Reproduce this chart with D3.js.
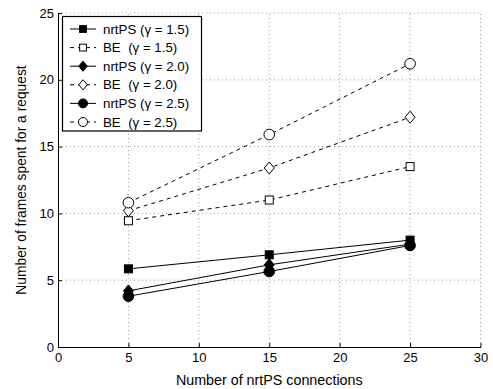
<!DOCTYPE html>
<html><head><meta charset="utf-8">
<script src="https://cdn.jsdelivr.net/npm/d3@7"></script>
<style>body{margin:0;background:#fff;} text{font-family:"Liberation Sans",Arial,sans-serif;white-space:pre;}</style>
</head><body>
<svg id="c" width="493" height="389"></svg>
<script>
const xValues = [5, 15, 25];
const nrtPS15 = [5.85, 6.9, 8.0];
const BE15 = [9.45, 11.0, 13.5];
const nrtPS20 = [4.2, 6.15, 7.7];
const BE20 = [10.2, 13.4, 17.2];
const nrtPS25 = [3.8, 5.65, 7.6];
const BE25 = [10.8, 15.9, 21.2];
const xTicks = [0, 5, 10, 15, 20, 25, 30];
const yTicks = [0, 5, 10, 15, 20, 25];
const seriesNames = ["nrtPS (\u03b3 = 1.5)", "BE  (\u03b3 = 1.5)", "nrtPS (\u03b3 = 2.0)", "BE  (\u03b3 = 2.0)", "nrtPS (\u03b3 = 2.5)", "BE  (\u03b3 = 2.5)"];

const series = [
  {name: seriesNames[0], v: nrtPS15, dash: null, marker: "square", fill: "#000"},
  {name: seriesNames[1], v: BE15, dash: "4,4", marker: "square", fill: "#fff"},
  {name: seriesNames[2], v: nrtPS20, dash: null, marker: "diamond", fill: "#000"},
  {name: seriesNames[3], v: BE20, dash: "4,4", marker: "diamond", fill: "#fff"},
  {name: seriesNames[4], v: nrtPS25, dash: null, marker: "circle", fill: "#000"},
  {name: seriesNames[5], v: BE25, dash: "4,4", marker: "circle", fill: "#fff"}
];

const svg = d3.select("#c");
const x = d3.scaleLinear().domain([0, 30]).range([58, 480.5]);
const y = d3.scaleLinear().domain([0, 25]).range([347, 13]);

// grid
const g = svg.append("g");
g.selectAll(".vg").data(xTicks.slice(1)).enter().append("line")
  .attr("x1", d => x(d)).attr("x2", d => x(d)).attr("y1", y(0)).attr("y2", y(25))
  .attr("stroke", "#999").attr("stroke-width", 1).attr("stroke-dasharray", "1,3");
g.selectAll(".hg").data(yTicks.slice(1)).enter().append("line")
  .attr("y1", d => y(d)).attr("y2", d => y(d)).attr("x1", x(0)).attr("x2", x(30))
  .attr("stroke", "#999").attr("stroke-width", 1).attr("stroke-dasharray", "1,3");

// axes
const xAxis = d3.axisBottom(x).tickValues(xTicks).tickSizeInner(-4).tickSizeOuter(0).tickPadding(6);
const yAxis = d3.axisLeft(y).tickValues(yTicks).tickSizeInner(-4).tickSizeOuter(0).tickPadding(4);
const gx = svg.append("g").attr("transform", `translate(0,${y(0)})`).call(xAxis);
const gy = svg.append("g").attr("transform", `translate(${x(0)},0)`).call(yAxis);
[gx, gy].forEach(a => {
  a.selectAll("path,line").attr("stroke", "#000");
  a.selectAll("text").attr("font-size", 13).attr("fill", "#000").attr("font-family", "Liberation Sans, Arial, sans-serif");
});

// axis labels
svg.append("text").attr("x", (x(0) + x(30)) / 2).attr("y", 385).attr("text-anchor", "middle")
  .attr("font-size", 14.3).text("Number of nrtPS connections");
svg.append("text").attr("transform", `translate(26,${(y(0) + y(25)) / 2}) rotate(-90)`).attr("text-anchor", "middle")
  .attr("font-size", 13.8).text("Number of frames spent for a request");

function marker(sel, type, fill, cx, cy, s) {
  if (type === "square") {
    sel.append("rect").attr("x", cx - 4 * s).attr("y", cy - 4 * s).attr("width", 8 * s).attr("height", 8 * s)
      .attr("fill", fill).attr("stroke", "#000").attr("stroke-width", 1);
  } else if (type === "diamond") {
    sel.append("path").attr("d", `M${cx},${cy - 6 * s}L${cx + 5 * s},${cy}L${cx},${cy + 6 * s}L${cx - 5 * s},${cy}Z`)
      .attr("fill", fill).attr("stroke", "#000").attr("stroke-width", 1);
  } else {
    sel.append("circle").attr("cx", cx).attr("cy", cy).attr("r", 5.3 * s)
      .attr("fill", fill).attr("stroke", "#000").attr("stroke-width", 1);
  }
}

const line = d3.line().x((d, i) => x(xValues[i])).y(d => y(d));
series.forEach(s => {
  const sg = svg.append("g");
  sg.append("path").attr("d", line(s.v)).attr("fill", "none").attr("stroke", "#000")
    .attr("stroke-width", 1).attr("stroke-dasharray", s.dash);
  s.v.forEach((d, i) => marker(sg, s.marker, s.fill, x(xValues[i]), y(d), 1));
});

// legend
const lg = svg.append("g");
lg.append("rect").attr("x", 62.5).attr("y", 16.5).attr("width", 139).attr("height", 114.5)
  .attr("fill", "#fff").attr("stroke", "#000").attr("stroke-width", 1.2);
series.forEach((s, i) => {
  const cy = 29 + i * 18.6;
  lg.append("line").attr("x1", 70).attr("x2", 96).attr("y1", cy).attr("y2", cy)
    .attr("stroke", "#000").attr("stroke-width", 1).attr("stroke-dasharray", s.dash ? "4,4" : null);
  marker(lg, s.marker, s.fill, 83, cy, 0.85);
  lg.append("text").attr("x", 103).attr("y", cy + 4.5).attr("font-size", 13.3).text(s.name);
});
</script>
</body></html>
